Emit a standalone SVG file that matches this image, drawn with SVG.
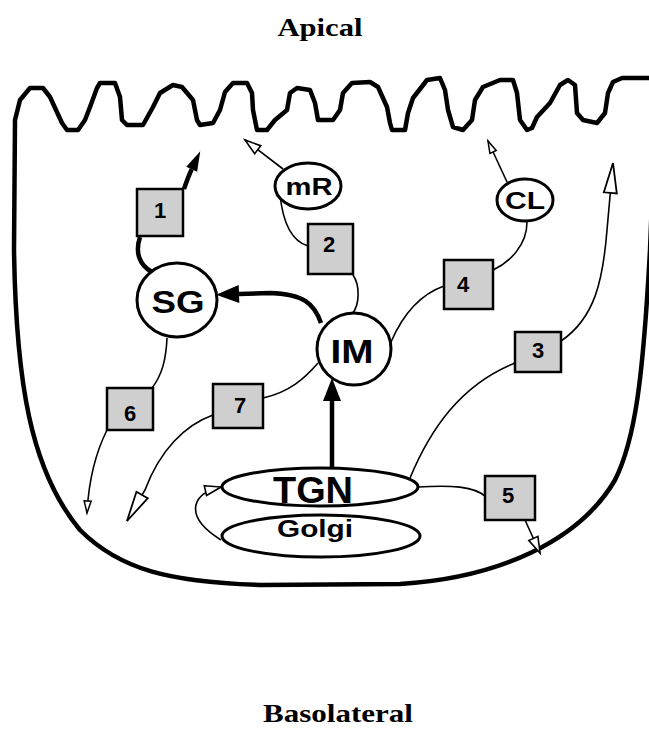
<svg xmlns="http://www.w3.org/2000/svg" width="649" height="736" viewBox="0 0 649 736">
<style>
.title{font-family:"Liberation Serif","Times New Roman",serif;font-weight:bold;fill:#000;text-anchor:middle}
.lbl{font-family:"Liberation Sans",Arial,sans-serif;font-weight:bold;fill:#000;text-anchor:middle}
.node{fill:#fff;stroke:#000;stroke-width:3}
.box{fill:#cfcfcf;stroke:#000;stroke-width:2.5}
.thin{fill:none;stroke:#000;stroke-width:1.6}
.thick{fill:none;stroke:#000;stroke-width:4.5}
.mem{fill:none;stroke:#000;stroke-width:4.5;stroke-linejoin:round;stroke-linecap:round}
</style>
<defs>
<marker id="hf" markerUnits="userSpaceOnUse" markerWidth="24" markerHeight="18" refX="0" refY="9" orient="auto" overflow="visible"><path d="M0,0 L23,9 L0,18 z" fill="#000"/></marker>
<marker id="hfn" markerUnits="userSpaceOnUse" markerWidth="20" markerHeight="12" refX="0" refY="6" orient="auto" overflow="visible"><path d="M0,0 L20,6 L0,12 z" fill="#000"/></marker>
<marker id="os" markerUnits="userSpaceOnUse" markerWidth="12" markerHeight="7" refX="12" refY="3.5" orient="auto" overflow="visible"><path d="M0,0 L12,3.5 L0,7 z" fill="#fff" stroke="#000" stroke-width="1.5"/></marker>
<marker id="om" markerUnits="userSpaceOnUse" markerWidth="16" markerHeight="10" refX="16" refY="5" orient="auto" overflow="visible"><path d="M0,0 L16,5 L0,10 z" fill="#fff" stroke="#000" stroke-width="1.6"/></marker>
<marker id="ol" markerUnits="userSpaceOnUse" markerWidth="30" markerHeight="13" refX="30" refY="6.5" orient="auto" overflow="visible"><path d="M0,0 L30,6.5 L0,13 z" fill="#fff" stroke="#000" stroke-width="1.8"/></marker>
</defs>

<text class="title" x="320" y="36" font-size="26" textLength="85" lengthAdjust="spacingAndGlyphs">Apical</text>
<text class="title" x="338" y="722" font-size="25" textLength="150" lengthAdjust="spacingAndGlyphs">Basolateral</text>

<g id="membrane">
<path class="mem" d="M655,78 L622,78 L613,82 L608,93 L605,113 L597,123 L583,120 L577,113 L575,85 L568,80 L560,85 L550,103 L537,117 L532,128 L527,130 L520,120 L517,93 L513,80 L500,80 L483,87 L475,100 L472,120 L463,130 L453,127 L448,110 L445,90 L440,78 L427,80 L413,98 L408,113 L405,130 L392,130 L390,123 L387,107 L378,87 L370,82 L352,83 L343,93 L340,110 L333,120 L318,120 L315,103 L310,90 L297,88 L290,93 L287,110 L275,120 L267,130 L257,130 L253,110 L252,93 L247,83 L233,83 L225,92 L220,110 L213,123 L200,125 L197,120 L193,100 L182,87 L173,85 L160,93 L153,107 L143,125 L127,125 L122,120 L120,97 L115,83 L100,83 L97,88 L90,107 L85,120 L78,130 L67,130 L62,123 L50,97 L43,88 L30,88 L20,100 L15,120 L14,250 C16,380 30,470 80,530 C120,570 170,582 260,585 L400,584 C500,578 580,540 615,480 C635,440 643,380 650,250 L652,200"/>
</g>

<g id="connectors">
<path class="thick" d="M152,272 C139,265 135,252 140,237"/>
<path class="thick" d="M184,189 C186,183 188,177 191.7,169.2" marker-end="url(#hfn)"/>
<path class="thick" d="M321,323 C314,303 303,294 270,293 L239,294" marker-end="url(#hf)"/>
<path class="thick" d="M332,467 L332,401" marker-end="url(#hf)"/>
<path class="thin" d="M283,169 L245,140" marker-end="url(#om)"/>
<path class="thin" d="M280,194 C282,215 288,240 308,246"/>
<path class="thin" d="M353,275 C360,285 360,305 352,314"/>
<path class="thin" d="M507,182 L488,141" marker-end="url(#os)"/>
<path class="thin" d="M527,222 C527,245 510,262 493,270"/>
<path class="thin" d="M444,286 Q410,298 391,342"/>
<path class="thin" d="M561,341 C595,318 603,280 607,230 L613,163" marker-end="url(#ol)"/>
<path class="thin" d="M410,478 C430,430 460,385 515,363"/>
<path class="thin" d="M418,487 C450,485 475,486 486,497"/>
<path class="thin" d="M525,520 L540,553" marker-end="url(#om)"/>
<path class="thin" d="M167,338 C166,360 162,375 152,388"/>
<path class="thin" d="M107,430 C97,450 89,475 87,513" marker-end="url(#os)"/>
<path class="thin" d="M318,363 C305,378 290,392 263,398"/>
<path class="thin" d="M213,415 C185,425 160,450 145,490 L127,521" marker-end="url(#ol)"/>
<path class="thin" d="M221,540 C205,530 193,518 196,505 C198,496 208,490 221,487" marker-end="url(#om)"/>
</g>

<g id="SG"><ellipse class="node" cx="177" cy="300" rx="40" ry="37"/><text class="lbl" x="178" y="313" font-size="31" textLength="53" lengthAdjust="spacingAndGlyphs">SG</text></g>
<g id="IM"><ellipse class="node" cx="354" cy="349" rx="37" ry="36"/><text class="lbl" x="352" y="363" font-size="34" textLength="43" lengthAdjust="spacingAndGlyphs">IM</text></g>
<g id="mR"><ellipse class="node" cx="308" cy="186" rx="33" ry="23"/><text class="lbl" x="309" y="195" font-size="24" textLength="47" lengthAdjust="spacingAndGlyphs">mR</text></g>
<g id="CL"><ellipse class="node" cx="525" cy="200" rx="28" ry="21"/><text class="lbl" x="525" y="209" font-size="24" textLength="40" lengthAdjust="spacingAndGlyphs">CL</text></g>
<g id="TGN"><ellipse class="node" cx="320" cy="487" rx="98" ry="19"/><text class="lbl" x="313" y="503" font-size="37" textLength="80" lengthAdjust="spacingAndGlyphs">TGN</text></g>
<g id="Golgi"><ellipse class="node" cx="321" cy="536" rx="99" ry="21"/><text class="lbl" x="315" y="537" font-size="24" textLength="76" lengthAdjust="spacingAndGlyphs">Golgi</text></g>

<g id="box1"><rect class="box" x="137" y="189" width="46" height="47"/><text class="lbl" x="160" y="218" font-size="22">1</text></g>
<g id="box2"><rect class="box" x="308" y="224" width="45" height="50"/><text class="lbl" x="329" y="252" font-size="22">2</text></g>
<g id="box3"><rect class="box" x="515" y="332" width="46" height="40"/><text class="lbl" x="538" y="358" font-size="22">3</text></g>
<g id="box4"><rect class="box" x="444" y="260" width="49" height="49"/><text class="lbl" x="463" y="292" font-size="22">4</text></g>
<g id="box5"><rect class="box" x="485" y="476" width="50" height="44"/><text class="lbl" x="508" y="503" font-size="22">5</text></g>
<g id="box6"><rect class="box" x="107" y="388" width="46" height="42"/><text class="lbl" x="130" y="421" font-size="22">6</text></g>
<g id="box7"><rect class="box" x="213" y="384" width="50" height="44"/><text class="lbl" x="240" y="413" font-size="22">7</text></g>
</svg>
